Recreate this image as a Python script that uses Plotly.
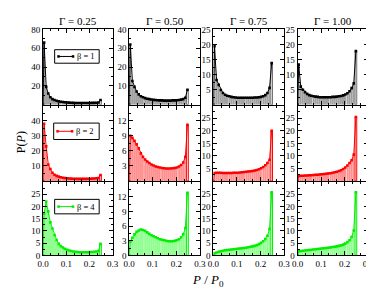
import plotly.graph_objects as go

# ---------------- data ----------------
BIN_X = [0.0045, 0.0135, 0.0225, 0.0315, 0.0405, 0.0495, 0.0585, 0.0675, 0.0765, 0.0855,
         0.0945, 0.1035, 0.1125, 0.1215, 0.1305, 0.1395, 0.1485, 0.1575, 0.1665, 0.1755,
         0.1845, 0.1935, 0.2025, 0.2115, 0.2205, 0.2295, 0.2385, 0.2475]

GAMMA_LABELS = ["Γ = 0.25", "Γ = 0.50", "Γ = 0.75", "Γ = 1.00"]
BETA_LABELS = ["β = 1", "β = 2", "β = 4"]

# beta = 1
P_B1_G025 = [66, 19, 12, 8, 6, 5, 4.2, 3.6, 3.2, 2.9, 2.6, 2.4, 2.2, 2.1, 2.0, 1.9, 1.9, 1.8,
             1.8, 1.8, 1.8, 1.9, 1.9, 2.0, 2.0, 2.1, 2.3, 5]
P_B1_G050 = [32, 12.6, 9.5, 7, 5.5, 4.5, 4, 3.5, 3.2, 3, 2.8, 2.6, 2.5, 2.4, 2.3, 2.3, 2.2, 2.2,
             2.2, 2.2, 2.3, 2.3, 2.4, 2.5, 2.7, 3.0, 3.7, 8]
P_B1_G075 = [19.4, 8.2, 6.6, 4.9, 3.9, 3.3, 3.0, 2.8, 2.6, 2.5, 2.4, 2.3, 2.3, 2.3, 2.3, 2.3, 2.3,
             2.3, 2.3, 2.4, 2.4, 2.5, 2.6, 2.8, 3.2, 3.9, 5.6, 13.8]
P_B1_G100 = [13.3, 6, 5, 4.2, 3.6, 3.2, 3.0, 2.8, 2.7, 2.6, 2.5, 2.5, 2.5, 2.5, 2.5, 2.5, 2.6, 2.6,
             2.7, 2.8, 2.9, 3.1, 3.4, 3.8, 4.5, 5.5, 7.1, 17.8]
# beta = 2
P_B2_G025 = [38, 23, 11, 8, 5.5, 4.2, 3.4, 2.9, 2.5, 2.2, 2.0, 1.8, 1.7, 1.6, 1.5, 1.5, 1.4, 1.4,
             1.4, 1.4, 1.4, 1.5, 1.5, 1.6, 1.7, 1.8, 2.0, 4]
P_B2_G050 = [9.0, 8.6, 8.0, 7.3, 6.5, 5.5, 4.8, 4.3, 3.9, 3.6, 3.3, 3.1, 2.9, 2.8, 2.7, 2.6, 2.55,
             2.5, 2.5, 2.5, 2.55, 2.6, 2.7, 2.9, 3.2, 3.7, 4.8, 11.2]
P_B2_G075 = [3.2, 3.3, 3.3, 3.3, 3.2, 3.2, 3.2, 3.2, 3.2, 3.3, 3.3, 3.3, 3.4, 3.5, 3.6, 3.7, 3.8,
             3.9, 4.0, 4.2, 4.4, 4.7, 5.1, 5.6, 6.3, 7.2, 8.5, 20]
P_B2_G100 = [2.0, 2.1, 2.1, 2.2, 2.2, 2.3, 2.3, 2.4, 2.5, 2.5, 2.6, 2.7, 2.8, 2.9, 3.0, 3.1, 3.3,
             3.5, 3.7, 4.0, 4.3, 4.8, 5.4, 6.2, 7.2, 8.3, 10.5, 25.5]
# beta = 4
P_B4_G025 = [17, 22, 18, 13.5, 11, 8.3, 6.3, 4.7, 3.8, 3.2, 2.7, 2.3, 2.0, 1.8, 1.6, 1.5, 1.4,
             1.3, 1.3, 1.3, 1.3, 1.3, 1.4, 1.4, 1.5, 1.6, 1.8, 4.7]
P_B4_G050 = [2.8, 3.6, 4.3, 4.8, 5.1, 5.3, 5.2, 5.0, 4.7, 4.4, 4.1, 3.9, 3.7, 3.5, 3.3, 3.2, 3.1,
             3.0, 2.9, 2.9, 2.9, 3.0, 3.1, 3.3, 3.7, 4.3, 5.6, 12.8]
P_B4_G075 = [0.8, 1.2, 1.5, 1.7, 1.9, 2.1, 2.2, 2.3, 2.4, 2.5, 2.6, 2.7, 2.8, 2.9, 3.0, 3.1, 3.3,
             3.5, 3.7, 3.9, 4.2, 4.6, 5.1, 5.8, 6.7, 8.0, 10.8, 25.8]
P_B4_G100 = [1.7, 1.8, 1.9, 2.0, 2.1, 2.2, 2.3, 2.4, 2.5, 2.6, 2.7, 2.8, 2.9, 3.0, 3.1, 3.2, 3.4,
             3.5, 3.7, 3.9, 4.1, 4.4, 4.8, 5.4, 6.2, 7.5, 10.2, 25.8]

SERIES = [
    [P_B1_G025, P_B1_G050, P_B1_G075, P_B1_G100],
    [P_B2_G025, P_B2_G050, P_B2_G075, P_B2_G100],
    [P_B4_G025, P_B4_G050, P_B4_G075, P_B4_G100],
]

Y_MAX = [[80, 40, 25, 25], [50, 15, 30, 30], [30, 15, 30, 30]]
Y_STEP = [[20, 10, 5, 5], [10, 3, 5, 5], [5, 3, 5, 5]]

# ---------------- styling ----------------
W, H = 374, 291
LINE_COL = ["#000000", "#ff0000", "#00ee00"]
BAR_COL = ["#a0a0a0", "#ff9090", "#90ff90"]
SPIKE_COL = ["#707070", "#ff0000", "#00ee00"]
FONT = "Liberation Serif"

COLS_PX = [(30, 102), (119, 192), (206, 279), (293, 366)]
ROWS_PX = [(17, 95), (96, 174), (175, 251)]


def px_x(v):
    return v / W


def px_y(v):
    return 1 - v / H


fig = go.Figure()
layout = dict(
    width=W, height=H, margin=dict(l=0, r=0, t=0, b=0),
    paper_bgcolor="white", plot_bgcolor="white",
    showlegend=False, barmode="overlay",
    font=dict(family=FONT, size=9, color="black"),
)

for r in range(3):
    for c in range(4):
        k = r * 4 + c + 1
        xa = "x" if k == 1 else f"x{k}"
        ya = "y" if k == 1 else f"y{k}"
        vals = SERIES[r][c]
        fig.add_trace(go.Bar(
            x=BIN_X[:-1], y=vals[:-1], width=0.0068, xaxis=xa, yaxis=ya,
            marker=dict(color=BAR_COL[r], line=dict(width=0)), hoverinfo="skip"))
        fig.add_trace(go.Bar(
            x=BIN_X[-1:], y=vals[-1:], width=0.0072, xaxis=xa, yaxis=ya,
            marker=dict(color="white", line=dict(color=SPIKE_COL[r], width=1)),
            hoverinfo="skip"))
        fig.add_trace(go.Scatter(
            x=[0] + BIN_X, y=[0] + vals, xaxis=xa, yaxis=ya, mode="lines+markers",
            line=dict(color=LINE_COL[r], width=1),
            marker=dict(symbol="square", size=2.6, color=LINE_COL[r])))

        ymax, step = Y_MAX[r][c], Y_STEP[r][c]
        tv = list(range(0, ymax + 1, step))
        tt = []
        for v in tv:
            if v == 0 and r < 2:
                tt.append(" ")
            elif v == tv[-1] and r > 0:
                tt.append(" ")
            else:
                tt.append(str(v))
        x0, x1 = COLS_PX[c]
        y0, y1 = ROWS_PX[r]
        xname = "xaxis" if k == 1 else f"xaxis{k}"
        yname = "yaxis" if k == 1 else f"yaxis{k}"
        layout[xname] = dict(
            domain=[px_x(x0), px_x(x1)], anchor=ya, range=[0, 0.3],
            tickvals=[0, 0.1, 0.2, 0.3], ticktext=["0.0", "0.1", "0.2", "0.3"],
            showticklabels=(r == 2), ticks="inside", ticklen=4, tickcolor="black",
            showline=True, linecolor="black", linewidth=1, mirror="ticks",
            showgrid=False, zeroline=False, tickfont=dict(size=9, family=FONT),
            minor=dict(dtick=0.1 / 3, tick0=0, ticks="inside", ticklen=2,
                       tickcolor="black", showgrid=False),
        )
        layout[yname] = dict(
            domain=[px_y(y1), px_y(y0)], anchor=xa, range=[0, ymax],
            tickvals=tv, ticktext=tt, ticks="inside", ticklen=4, tickcolor="black",
            showline=True, linecolor="black", linewidth=1, mirror="ticks",
            showgrid=False, zeroline=False, tickfont=dict(size=9, family=FONT),
            minor=dict(dtick=step / 2, tick0=0, ticks="inside", ticklen=2,
                       tickcolor="black", showgrid=False),
        )

annotations = []
for c, g in enumerate(GAMMA_LABELS):
    x0, x1 = COLS_PX[c]
    annotations.append(dict(
        text=g, x=px_x((x0 + x1) / 2), y=px_y(8), xref="paper", yref="paper",
        showarrow=False, font=dict(size=11, family=FONT), xanchor="center", yanchor="middle"))

annotations.append(dict(
    text="<i>P</i> / <i>P</i><sub>0</sub>", x=px_x(200), y=px_y(277), xref="paper",
    yref="paper", showarrow=False, font=dict(size=13, family=FONT),
    xanchor="center", yanchor="middle"))
annotations.append(dict(
    text="P(<i>P</i>)", x=px_x(8), y=px_y(134), xref="paper", yref="paper",
    showarrow=False, textangle=-90, font=dict(size=12, family=FONT),
    xanchor="center", yanchor="middle"))

# manual legend boxes
LEG_BOX = [(42, 38, 88, 52), (41, 114, 88, 131), (42, 193, 88, 208)]
shapes = []
for r, (bx0, by0, bx1, by1) in enumerate(LEG_BOX):
    shapes.append(dict(type="rect", xref="paper", yref="paper",
                       x0=px_x(bx0), x1=px_x(bx1), y0=px_y(by1), y1=px_y(by0),
                       line=dict(color="black", width=1), fillcolor="white"))
    ly = (by0 + by1) / 2
    shapes.append(dict(type="line", xref="paper", yref="paper",
                       x0=px_x(bx0 + 4), x1=px_x(bx0 + 19), y0=px_y(ly), y1=px_y(ly),
                       line=dict(color=LINE_COL[r], width=1)))
    for mx in (bx0 + 4, bx0 + 19):
        shapes.append(dict(type="rect", xref="paper", yref="paper",
                           x0=px_x(mx - 1.3), x1=px_x(mx + 1.3),
                           y0=px_y(ly + 1.3), y1=px_y(ly - 1.3),
                           line=dict(width=0), fillcolor=LINE_COL[r]))
    annotations.append(dict(
        text=BETA_LABELS[r], x=px_x(bx0 + 22), y=px_y(ly), xref="paper", yref="paper",
        showarrow=False, xanchor="left", yanchor="middle", borderpad=0,
        font=dict(size=8.5, family=FONT)))

layout["annotations"] = annotations
layout["shapes"] = shapes
fig.update_layout(**layout)
fig.write_html("out.html")
